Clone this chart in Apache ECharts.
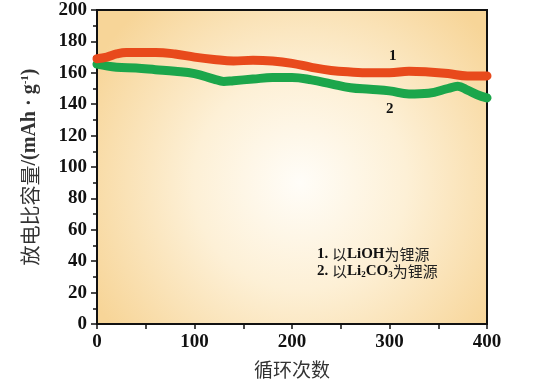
<!DOCTYPE html>
<html><head><meta charset="utf-8">
<script src="https://cdn.jsdelivr.net/npm/echarts@6/dist/echarts.min.js"></script>
<style>html,body{margin:0;padding:0;background:#fff}#c{width:533px;height:384px}</style>
</head><body><div id="c"></div>
<script>
var redCycles = [0,10,20,30,40,60,80,100,120,140,160,180,200,220,240,260,280,300,320,340,360,380,400];
var redValues = [169,170,172,173,173,173,172,170,168.5,167.5,168,167.5,166,163.5,161.5,160.5,160,160,161,160.5,159.5,158,158];
var greenCycles = [0,20,40,60,80,100,120,130,140,160,180,200,220,240,260,280,300,320,340,360,370,380,390,400];
var greenValues = [165.5,163.5,163,162,161,159.5,156,154.5,155,156,157,157,155.5,153,150.5,149.5,148.5,146.5,147,150,151.5,149,146,144];
var xTicks = [0,100,200,300,400];
var yTicks = [0,20,40,60,80,100,120,140,160,180,200];

function pairs(xs, ys){ return xs.map(function(x,i){ return [x, ys[i]]; }); }

var serif = 'Liberation Serif';
var cjk = 'Noto Sans CJK SC';
var chart = echarts.init(document.getElementById('c'));
chart.setOption({
  animation: false,
  grid: {
    left: 97, right: 46, top: 10, bottom: 59, show: true,
    borderColor: '#111', borderWidth: 2,
    backgroundColor: new echarts.graphic.RadialGradient(0.52, 0.55, 0.75, [
      {offset: 0, color: '#fffdf8'},
      {offset: 0.45, color: '#fdf0d6'},
      {offset: 1, color: '#f7d598'}
    ])
  },
  xAxis: {
    type: 'value', min: 0, max: 400, interval: 100,
    axisLine: {lineStyle: {color: '#111', width: 2}},
    axisTick: {show: true, inside: false, length: 5, lineStyle: {color: '#111', width: 1.5}},
    minorTick: {show: true, splitNumber: 2, length: 5, lineStyle: {color: '#111', width: 1.5}},
    splitLine: {show: false},
    axisLabel: {color: '#111', fontFamily: serif, fontWeight: 'bold', fontSize: 19, margin: 9,
      formatter: function(v){ return xTicks.indexOf(v) >= 0 ? String(v) : ''; }},
    name: '循环次数', nameLocation: 'middle', nameGap: 36,
    nameTextStyle: {color: '#333', fontFamily: cjk, fontSize: 19}
  },
  yAxis: {
    type: 'value', min: 0, max: 200, interval: 20,
    axisLine: {lineStyle: {color: '#111', width: 2}},
    axisTick: {show: true, inside: false, length: 6, lineStyle: {color: '#111', width: 1.5}},
    minorTick: {show: true, splitNumber: 2, length: 4, lineStyle: {color: '#111', width: 1.5}},
    splitLine: {show: false},
    axisLabel: {color: '#111', fontFamily: serif, fontWeight: 'bold', fontSize: 19, margin: 10,
      formatter: function(v){ return yTicks.indexOf(v) >= 0 ? String(v) : ''; }},
    name: '{cn|放电比容量}{en|/(mAh · g}{sup|-1}{en|)}',
    nameLocation: 'middle', nameGap: 57, nameRotate: 90,
    nameTextStyle: {
      color: '#333',
      rich: {
        cn: {fontFamily: cjk, fontSize: 20, color: '#333'},
        en: {fontFamily: serif, fontWeight: 'bold', fontSize: 20, color: '#333'},
        sup: {fontFamily: serif, fontWeight: 'bold', fontSize: 11, color: '#333', verticalAlign: 'top'}
      }
    }
  },
  series: [
    {
      type: 'line', data: pairs(redCycles, redValues), smooth: 0.4, showSymbol: false,
      lineStyle: {color: '#e84a1c', width: 9, cap: 'round', join: 'round'}, z: 3
    },
    {
      type: 'line', data: pairs(greenCycles, greenValues), smooth: 0.4, showSymbol: false,
      lineStyle: {color: '#1ca64b', width: 9, cap: 'round', join: 'round'}, z: 2
    }
  ],
  graphic: [
    {type: 'text', left: 389, top: 49, style: {text: '1', font: 'bold 15px "Liberation Serif"', fill: '#111'}},
    {type: 'text', left: 386, top: 102, style: {text: '2', font: 'bold 15px "Liberation Serif"', fill: '#111'}},
    {type: 'text', left: 317, top: 247, style: {
      text: '{b|1. }{c|以}{b|LiOH}{c|为锂源}',
      rich: {
        b: {fontFamily: serif, fontWeight: 'bold', fontSize: 15, fill: '#111'},
        c: {fontFamily: cjk, fontSize: 15, fill: '#222'}
      }
    }},
    {type: 'text', left: 317, top: 264, style: {
      text: '{b|2. }{c|以}{b|Li}{s|2}{b|CO}{s|3}{c|为锂源}',
      rich: {
        b: {fontFamily: serif, fontWeight: 'bold', fontSize: 15, fill: '#111'},
        s: {fontFamily: serif, fontWeight: 'bold', fontSize: 9, fill: '#111', verticalAlign: 'bottom'},
        c: {fontFamily: cjk, fontSize: 15, fill: '#222'}
      }
    }}
  ]
});
</script></body></html>
